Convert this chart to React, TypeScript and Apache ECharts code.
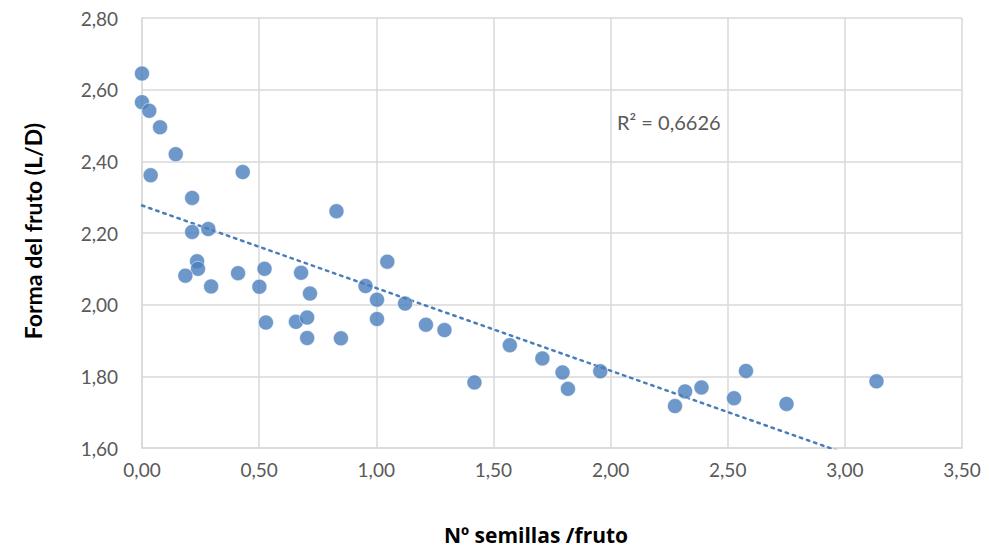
import React, { useEffect, useRef } from "react";
import * as echarts from "echarts";

// Nº semillas / fruto
const seedsX: number[] = [
  0.0, 0.0, 0.031, 0.077, 0.144, 0.037, 0.43, 0.214, 0.214, 0.283,
  0.83, 0.235, 0.239, 0.185, 0.295, 0.41, 0.523, 0.501, 0.679, 0.717,
  0.954, 1.003, 0.529, 0.657, 0.705, 0.705, 0.849, 1.003, 1.047, 1.123,
  1.212, 1.291, 1.57, 1.709, 1.795, 1.818, 1.419, 1.956, 2.318, 2.275,
  2.388, 2.527, 2.578, 2.751, 3.135,
];
// Forma del fruto (L/D)
const shapeY: number[] = [
  2.645, 2.565, 2.541, 2.495, 2.42, 2.361, 2.37, 2.298, 2.203, 2.211,
  2.261, 2.121, 2.1, 2.081, 2.051, 2.088, 2.1, 2.05, 2.089, 2.031,
  2.052, 2.014, 1.95, 1.952, 1.964, 1.907, 1.906, 1.96, 2.12, 2.003,
  1.944, 1.929, 1.887, 1.85, 1.811, 1.765, 1.783, 1.814, 1.758, 1.717,
  1.769, 1.739, 1.815, 1.723, 1.786,
];
const r2Label = "R² = 0,6626";
const xTitle = "Nº semillas /fruto";
const yTitle = "Forma del fruto (L/D)";

function linearFit(xs: number[], ys: number[]) {
  const n = xs.length;
  const mx = xs.reduce((a, b) => a + b, 0) / n;
  const my = ys.reduce((a, b) => a + b, 0) / n;
  let sxy = 0, sxx = 0;
  for (let i = 0; i < n; i++) {
    sxy += (xs[i] - mx) * (ys[i] - my);
    sxx += (xs[i] - mx) * (xs[i] - mx);
  }
  const b = sxy / sxx;
  return { a: my - b * mx, b };
}

const fmt = (v: number) => v.toFixed(2).replace(".", ",");

export default function App() {
  const ref = useRef<HTMLDivElement>(null);
  useEffect(() => {
    document.body.style.margin = "0";
    if (!ref.current) return;
    const chart = echarts.init(ref.current, undefined, { renderer: "svg" });
    const points = seedsX.map((x, i) => [x, shapeY[i]]);
    const fit = linearFit(seedsX, shapeY);
    const xMin = Math.min(...seedsX);
    const xMax = Math.max(...seedsX);
    const trend = [
      [xMin, fit.a + fit.b * xMin],
      [xMax, fit.a + fit.b * xMax],
    ];
    const font = "Lato, 'Open Sans', sans-serif";
    const titleFont = "'Open Sans', Lato, sans-serif";
    const color = "#4a7ebb";
    chart.setOption({
      animation: false,
      backgroundColor: "#ffffff",
      grid: { left: 142, right: 27, top: 18, bottom: 108, containLabel: false },
      xAxis: {
        type: "value",
        min: 0,
        max: 3.5,
        interval: 0.5,
        axisLine: { show: true, lineStyle: { color: "#d9d9d9", width: 1.5 } },
        axisTick: { show: false },
        splitLine: { show: true, lineStyle: { color: "#d9d9d9", width: 1.5 } },
        axisLabel: {
          formatter: fmt,
          color: "#595959",
          fontSize: 19,
          fontFamily: font,
          margin: 12,
        },
      },
      yAxis: {
        type: "value",
        min: 1.6,
        max: 2.8,
        interval: 0.2,
        axisLine: { show: true, lineStyle: { color: "#d9d9d9", width: 1.5 } },
        axisTick: { show: false },
        splitLine: { show: true, lineStyle: { color: "#d9d9d9", width: 1.5 } },
        axisLabel: {
          formatter: fmt,
          color: "#595959",
          fontSize: 19,
          fontFamily: font,
          margin: 24,
        },
      },
      graphic: [
        {
          type: "text",
          x: 617,
          y: 122,
          style: {
            text: r2Label,
            fill: "#595959",
            fontSize: 20,
            fontFamily: font,
            align: "left",
            verticalAlign: "middle",
          },
        },
        {
          type: "text",
          x: 536,
          y: 535,
          style: {
            text: xTitle,
            fill: "#000000",
            fontSize: 21,
            fontWeight: "bold",
            fontFamily: titleFont,
            align: "center",
            verticalAlign: "middle",
          },
        },
        {
          type: "text",
          x: 33,
          y: 231,
          rotation: Math.PI / 2,
          style: {
            text: yTitle,
            fill: "#000000",
            fontSize: 23,
            fontWeight: "bold",
            fontFamily: font,
            align: "center",
            verticalAlign: "middle",
          },
        },
      ],
      series: [
        {
          type: "line",
          data: trend,
          showSymbol: false,
          symbol: "none",
          clip: true,
          lineStyle: { color, width: 2.5, type: [2.5, 5], cap: "round" },
          z: 1,
        },
        {
          type: "scatter",
          data: points,
          symbolSize: 15,
          itemStyle: { color, borderColor: "#ffffff", borderWidth: 0.6 },
          z: 2,
        },
      ],
    });
    return () => chart.dispose();
  }, []);
  return <div ref={ref} style={{ width: 989, height: 556 }} />;
}
